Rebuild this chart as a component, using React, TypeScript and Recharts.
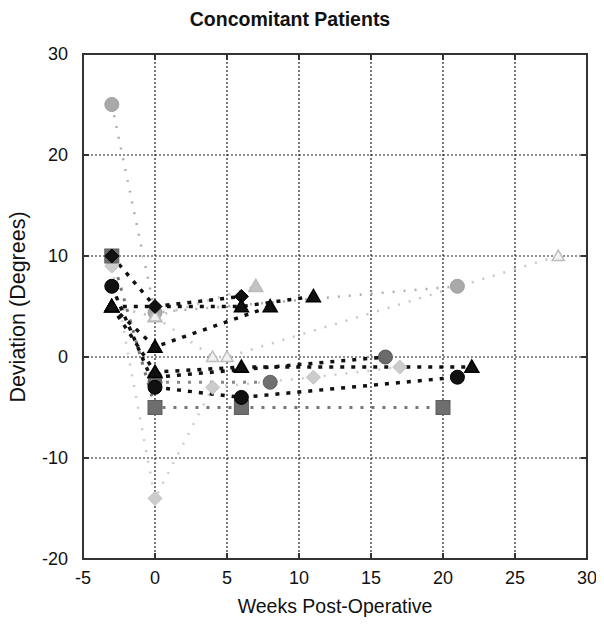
import React from "react";
import { LineChart, Line, XAxis, YAxis, CartesianGrid, ReferenceArea } from "recharts";

// ---- data (weeks post-operative, deviation in degrees) ----
const xTicks = [-5, 0, 5, 10, 15, 20, 25, 30];
const yTicks = [-20, -10, 0, 10, 20, 30];

const lightCircleWeeks = [-3, 0, 21];
const lightCircleDev = [25, 4.4, 7];

const lightTriWeeks = [-3, 0, 7];
const lightTriDev = [5, 4, 7];

const lightOpenWeeks = [-3, 0, 4, 5, 28];
const lightOpenDev = [5, 4, 0, 0, 10];

const lightDiamondWeeks = [-3, 0, 4, 11, 17];
const lightDiamondDev = [9, -14, -3, -2, -1];

const graySquareWeeks = [-3, 0, 6, 20];
const graySquareDev = [10, -5, -5, -5];

const grayCircleWeeks = [0, 8];
const grayCircleDev = [-2.5, -2.5];

const grayCircle2Weeks = [0, 16];
const grayCircle2Dev = [-2, 0];

const blackCircleWeeks = [-3, 0, 6, 21];
const blackCircleDev = [7, -3, -4, -2];

const blackDiamondWeeks = [-3, 0, 6];
const blackDiamondDev = [10, 5, 6];

const blackTriAWeeks = [-3, 0, 8];
const blackTriADev = [5, 1, 5];

const blackTriBWeeks = [-3, 6, 11];
const blackTriBDev = [5, 5, 6];

const blackTriCWeeks = [-3, 0, 6, 22];
const blackTriCDev = [5, -1.5, -1, -1];

const build = (xs: number[], ys: number[]) => xs.map((x, i) => ({ x, y: ys[i] }));

type Shape = "circle" | "square" | "diamond" | "triangle";

const makeDot = (shape: Shape, fill: string, stroke: string, size = 7) => (props: any) => {
  const { cx, cy, index } = props;
  if (cx == null || cy == null) return <g key={index} />;
  const s = size;
  if (shape === "circle")
    return <circle key={index} cx={cx} cy={cy} r={s} fill={fill} stroke={stroke} strokeWidth={1} />;
  if (shape === "square")
    return <rect key={index} x={cx - s} y={cy - s} width={2 * s} height={2 * s} fill={fill} stroke={stroke} strokeWidth={1} />;
  if (shape === "diamond")
    return (
      <polygon
        key={index}
        points={`${cx},${cy - s} ${cx + s},${cy} ${cx},${cy + s} ${cx - s},${cy}`}
        fill={fill}
        stroke={stroke}
        strokeWidth={1}
      />
    );
  return (
    <polygon
      key={index}
      points={`${cx},${cy - s} ${cx + s},${cy + s * 0.75} ${cx - s},${cy + s * 0.75}`}
      fill={fill}
      stroke={stroke}
      strokeWidth={1.5}
    />
  );
};

interface Series {
  name: string;
  data: { x: number; y: number }[];
  color: string;
  width: number;
  dash: string;
  dot: (p: any) => React.ReactElement;
}

const LIGHT_DASH = "2 9";
const GRAY_DASH = "3 8";
const BLACK_DASH = "4 7";

const series: Series[] = [
  { name: "lightCircle", data: build(lightCircleWeeks, lightCircleDev), color: "#b0b0b0", width: 2.5, dash: LIGHT_DASH, dot: makeDot("circle", "#a9a9a9", "#a0a0a0", 7) },
  { name: "lightTri", data: build(lightTriWeeks, lightTriDev), color: "#c4c4c4", width: 2.5, dash: LIGHT_DASH, dot: makeDot("triangle", "#c4c4c4", "#bbbbbb", 7) },
  { name: "lightOpen", data: build(lightOpenWeeks, lightOpenDev), color: "#c8c8c8", width: 2.5, dash: LIGHT_DASH, dot: makeDot("triangle", "#f2f2f2", "#bdbdbd", 6) },
  { name: "lightDiamond", data: build(lightDiamondWeeks, lightDiamondDev), color: "#cccccc", width: 2.5, dash: LIGHT_DASH, dot: makeDot("diamond", "#cccccc", "#c0c0c0", 7) },
  { name: "graySquare", data: build(graySquareWeeks, graySquareDev), color: "#777777", width: 3, dash: GRAY_DASH, dot: makeDot("square", "#6e6e6e", "#5e5e5e", 7) },
  { name: "grayCircle", data: build(grayCircleWeeks, grayCircleDev), color: "#888888", width: 3, dash: GRAY_DASH, dot: makeDot("circle", "#707070", "#606060", 7) },
  { name: "grayCircle2", data: build(grayCircle2Weeks, grayCircle2Dev), color: "#111111", width: 3.5, dash: BLACK_DASH, dot: makeDot("circle", "#6a6a6a", "#555555", 7) },
  { name: "blackCircle", data: build(blackCircleWeeks, blackCircleDev), color: "#111111", width: 3.5, dash: BLACK_DASH, dot: makeDot("circle", "#111111", "#000000", 7) },
  { name: "blackDiamond", data: build(blackDiamondWeeks, blackDiamondDev), color: "#111111", width: 3.5, dash: BLACK_DASH, dot: makeDot("diamond", "#111111", "#000000", 7) },
  { name: "blackTriA", data: build(blackTriAWeeks, blackTriADev), color: "#111111", width: 3.5, dash: BLACK_DASH, dot: makeDot("triangle", "#111111", "#000000", 7) },
  { name: "blackTriB", data: build(blackTriBWeeks, blackTriBDev), color: "#111111", width: 3.5, dash: BLACK_DASH, dot: makeDot("triangle", "#111111", "#000000", 7) },
  { name: "blackTriC", data: build(blackTriCWeeks, blackTriCDev), color: "#111111", width: 3.5, dash: BLACK_DASH, dot: makeDot("triangle", "#111111", "#000000", 7) },
];

const W = 596;
const H = 610;
const PLOT_LEFT = 75;
const PLOT_RIGHT = 579;
const PLOT_TOP = 46;
const PLOT_BOTTOM = 551;
const FONT = "'Liberation Sans', Arial, sans-serif";

const XTick = (props: any) => {
  const { x, payload } = props;
  return (
    <g>
      <line x1={x} x2={x} y1={PLOT_BOTTOM} y2={PLOT_BOTTOM - 6} stroke="#333" strokeWidth={2} />
      <line x1={x} x2={x} y1={PLOT_TOP} y2={PLOT_TOP + 6} stroke="#333" strokeWidth={2} />
      <text x={x} y={PLOT_BOTTOM + 25} textAnchor="middle" fontSize={18} fontFamily={FONT} fill="#111">
        {payload.value}
      </text>
    </g>
  );
};

const YTick = (props: any) => {
  const { y, payload } = props;
  return (
    <g>
      <line x1={PLOT_LEFT} x2={PLOT_LEFT + 6} y1={y} y2={y} stroke="#333" strokeWidth={2} />
      <line x1={PLOT_RIGHT} x2={PLOT_RIGHT - 6} y1={y} y2={y} stroke="#333" strokeWidth={2} />
      <text x={PLOT_LEFT - 15} y={y + 6} textAnchor="end" fontSize={18} fontFamily={FONT} fill="#111">
        {payload.value}
      </text>
    </g>
  );
};

export default function App() {
  return (
    <div style={{ position: "relative", width: W, height: H, fontFamily: FONT }}>
      <div
        style={{
          position: "absolute",
          left: 132,
          width: 300,
          top: 0,
          textAlign: "center",
          fontSize: 19.5,
          fontWeight: "bold",
          lineHeight: "22px",
          color: "#111",
          whiteSpace: "nowrap",
        }}
      >
        Concomitant Patients
      </div>
      <div
        style={{
          position: "absolute",
          left: PLOT_LEFT + (PLOT_RIGHT - PLOT_LEFT) / 2 - 150,
          width: 300,
          top: 587,
          textAlign: "center",
          fontSize: 19.5,
          lineHeight: "22px",
          color: "#111",
        }}
      >
        Weeks Post-Operative
      </div>
      <div
        style={{
          position: "absolute",
          left: 10 - 150,
          top: (PLOT_TOP + PLOT_BOTTOM) / 2 - 11,
          width: 300,
          textAlign: "center",
          fontSize: 21.5,
          lineHeight: "22px",
          color: "#111",
          whiteSpace: "nowrap",
          transform: "rotate(-90deg)",
          transformOrigin: "150px 11px",
        }}
      >
        Deviation (Degrees)
      </div>
      <div style={{ position: "absolute", left: 0, top: 0 }}>
        <LineChart width={W} height={H} margin={{ top: PLOT_TOP, right: W - PLOT_RIGHT, bottom: 0, left: 0 }}>
          <CartesianGrid stroke="#222" strokeDasharray="2 2" strokeWidth={1.2} />
          <XAxis
            dataKey="x"
            type="number"
            domain={[-5, 30]}
            ticks={xTicks}
            height={H - PLOT_BOTTOM}
            axisLine={false}
            tickLine={false}
            tick={<XTick />}
            allowDataOverflow
          />
          <YAxis
            dataKey="y"
            type="number"
            domain={[-20, 30]}
            ticks={yTicks}
            width={PLOT_LEFT}
            axisLine={false}
            tickLine={false}
            tick={<YTick />}
            allowDataOverflow
          />
          <ReferenceArea x1={-5} x2={30} y1={-20} y2={30} fill="none" stroke="#333" strokeWidth={2} ifOverflow="visible" />
          {series.map((s) => (
            <Line
              key={s.name}
              data={s.data}
              dataKey="y"
              type="linear"
              stroke={s.color}
              strokeWidth={s.width}
              strokeDasharray={s.dash}
              dot={s.dot}
              activeDot={false}
              isAnimationActive={false}
            />
          ))}
        </LineChart>
      </div>
    </div>
  );
}
